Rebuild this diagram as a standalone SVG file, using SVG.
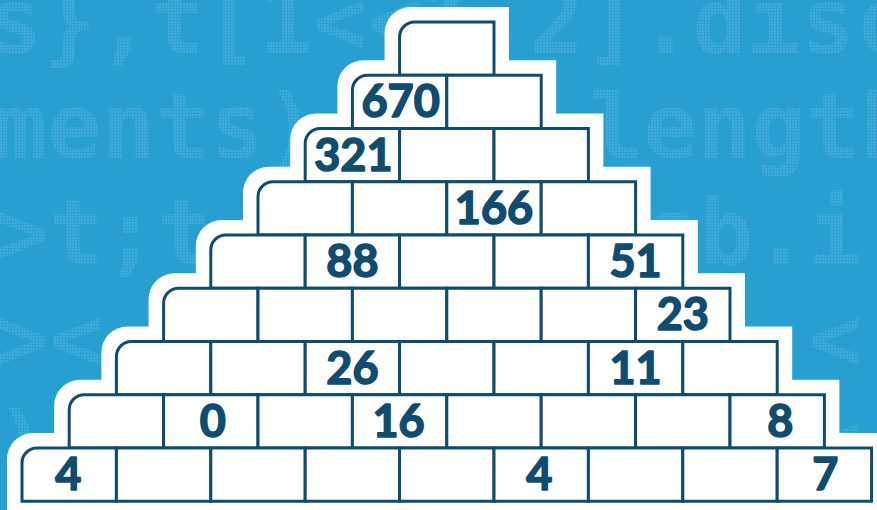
<svg xmlns="http://www.w3.org/2000/svg" width="877" height="510" viewBox="0 0 877 510">
<style>
.cell{fill:#ffffff;stroke:#0f4c6d;stroke-width:3;stroke-linejoin:miter}
.num{font-family:Lato,"Open Sans","Liberation Sans",sans-serif;font-weight:700;font-size:45px;fill:#0f4c6d;stroke:#0f4c6d;stroke-width:1.6;stroke-linejoin:round;text-anchor:middle}
.code{font-family:"DejaVu Sans Mono","Liberation Mono",monospace;font-size:90px;font-weight:700;fill:url(#dots)}
</style>
<defs>
<pattern id="dots" width="3" height="3" patternUnits="userSpaceOnUse">
<rect x="0" y="0" width="2.2" height="2.2" fill="#41acda"/>
</pattern>
</defs>
<rect x="0" y="0" width="877" height="510" fill="#289fd1"/>
<g id="background-code">
<text class="code" x="-12" y="53">s},t[1&lt;&lt;1,2].disc</text>
<text class="code" x="-7" y="158">ments)</text>
<text class="code" x="589" y="158">length</text>
<text class="code" x="-5" y="264">&gt;t;t</text>
<text class="code" x="645" y="264">sb.i</text>
<text class="code" x="-5" y="370">&gt;&lt;</text>
<text class="code" x="808" y="370">&lt;</text>
<text class="code" x="-5" y="476">)</text>
<text class="code" x="808" y="476">&lt;</text>
</g>
<path id="pyramid-outline" fill="#ffffff" d="M7 515 V459 A26 26 0 0 1 33 433 H54.2 V405.75 A26 26 0 0 1 80.2 379.75 H101.4 V352.5 A26 26 0 0 1 127.4 326.5 H148.6 V299.25 A26 26 0 0 1 174.6 273.25 H195.8 V246 A26 26 0 0 1 221.8 220 H243 V192.75 A26 26 0 0 1 269 166.75 H290.2 V139.5 A26 26 0 0 1 316.2 113.5 H337.4 V86.25 A26 26 0 0 1 363.4 60.25 H384.6 V33 A26 26 0 0 1 410.6 7 H509 V60.25 H556.2 V113.5 H603.4 V166.75 H650.6 V220 H697.8 V273.25 H745 V326.5 H792.2 V379.75 H839.4 V433 H890 V515 Z"/>
<g id="connectors"></g>
<g id="cells">
<g id="cell-0-0"><path class="cell" d="M399.6 75.25 V37 A15 15 0 0 1 414.6 22 H494 V75.25 Z"/></g>
<g id="cell-1-0"><path class="cell" d="M352.4 128.5 V90.25 A15 15 0 0 1 367.4 75.25 H446.8 V128.5 Z"/><text class="num" x="400.6" y="117.4">670</text></g>
<g id="cell-1-1"><rect class="cell" x="446.8" y="75.25" width="94.4" height="53.25"/></g>
<g id="cell-2-0"><path class="cell" d="M305.2 181.75 V143.5 A15 15 0 0 1 320.2 128.5 H399.6 V181.75 Z"/><text class="num" x="353.4" y="170.6">321</text></g>
<g id="cell-2-1"><rect class="cell" x="399.6" y="128.5" width="94.4" height="53.25"/></g>
<g id="cell-2-2"><rect class="cell" x="494" y="128.5" width="94.4" height="53.25"/></g>
<g id="cell-3-0"><path class="cell" d="M258 235 V196.75 A15 15 0 0 1 273 181.75 H352.4 V235 Z"/></g>
<g id="cell-3-1"><rect class="cell" x="352.4" y="181.75" width="94.4" height="53.25"/></g>
<g id="cell-3-2"><rect class="cell" x="446.8" y="181.75" width="94.4" height="53.25"/><text class="num" x="494" y="223.9">166</text></g>
<g id="cell-3-3"><rect class="cell" x="541.2" y="181.75" width="94.4" height="53.25"/></g>
<g id="cell-4-0"><path class="cell" d="M210.8 288.25 V250 A15 15 0 0 1 225.8 235 H305.2 V288.25 Z"/></g>
<g id="cell-4-1"><rect class="cell" x="305.2" y="235" width="94.4" height="53.25"/><text class="num" x="352.4" y="277.1">88</text></g>
<g id="cell-4-2"><rect class="cell" x="399.6" y="235" width="94.4" height="53.25"/></g>
<g id="cell-4-3"><rect class="cell" x="494" y="235" width="94.4" height="53.25"/></g>
<g id="cell-4-4"><rect class="cell" x="588.4" y="235" width="94.4" height="53.25"/><text class="num" x="635.6" y="277.1">51</text></g>
<g id="cell-5-0"><path class="cell" d="M163.6 341.5 V303.25 A15 15 0 0 1 178.6 288.25 H258 V341.5 Z"/></g>
<g id="cell-5-1"><rect class="cell" x="258" y="288.25" width="94.4" height="53.25"/></g>
<g id="cell-5-2"><rect class="cell" x="352.4" y="288.25" width="94.4" height="53.25"/></g>
<g id="cell-5-3"><rect class="cell" x="446.8" y="288.25" width="94.4" height="53.25"/></g>
<g id="cell-5-4"><rect class="cell" x="541.2" y="288.25" width="94.4" height="53.25"/></g>
<g id="cell-5-5"><rect class="cell" x="635.6" y="288.25" width="94.4" height="53.25"/><text class="num" x="682.8" y="330.4">23</text></g>
<g id="cell-6-0"><path class="cell" d="M116.4 394.75 V356.5 A15 15 0 0 1 131.4 341.5 H210.8 V394.75 Z"/></g>
<g id="cell-6-1"><rect class="cell" x="210.8" y="341.5" width="94.4" height="53.25"/></g>
<g id="cell-6-2"><rect class="cell" x="305.2" y="341.5" width="94.4" height="53.25"/><text class="num" x="352.4" y="383.6">26</text></g>
<g id="cell-6-3"><rect class="cell" x="399.6" y="341.5" width="94.4" height="53.25"/></g>
<g id="cell-6-4"><rect class="cell" x="494" y="341.5" width="94.4" height="53.25"/></g>
<g id="cell-6-5"><rect class="cell" x="588.4" y="341.5" width="94.4" height="53.25"/><text class="num" x="635.6" y="383.6">11</text></g>
<g id="cell-6-6"><rect class="cell" x="682.8" y="341.5" width="94.4" height="53.25"/></g>
<g id="cell-7-0"><path class="cell" d="M69.2 448 V409.75 A15 15 0 0 1 84.2 394.75 H163.6 V448 Z"/></g>
<g id="cell-7-1"><rect class="cell" x="163.6" y="394.75" width="94.4" height="53.25"/><text class="num" x="212.8" y="436.9">0</text></g>
<g id="cell-7-2"><rect class="cell" x="258" y="394.75" width="94.4" height="53.25"/></g>
<g id="cell-7-3"><rect class="cell" x="352.4" y="394.75" width="94.4" height="53.25"/><text class="num" x="398.6" y="436.9">16</text></g>
<g id="cell-7-4"><rect class="cell" x="446.8" y="394.75" width="94.4" height="53.25"/></g>
<g id="cell-7-5"><rect class="cell" x="541.2" y="394.75" width="94.4" height="53.25"/></g>
<g id="cell-7-6"><rect class="cell" x="635.6" y="394.75" width="94.4" height="53.25"/></g>
<g id="cell-7-7"><rect class="cell" x="730" y="394.75" width="94.4" height="53.25"/><text class="num" x="780.2" y="436.9">8</text></g>
<g id="cell-8-0"><path class="cell" d="M22 501.25 V463 A15 15 0 0 1 37 448 H116.4 V501.25 Z"/><text class="num" x="68.2" y="490.1">4</text></g>
<g id="cell-8-1"><rect class="cell" x="116.4" y="448" width="94.4" height="53.25"/></g>
<g id="cell-8-2"><rect class="cell" x="210.8" y="448" width="94.4" height="53.25"/></g>
<g id="cell-8-3"><rect class="cell" x="305.2" y="448" width="94.4" height="53.25"/></g>
<g id="cell-8-4"><rect class="cell" x="399.6" y="448" width="94.4" height="53.25"/></g>
<g id="cell-8-5"><rect class="cell" x="494" y="448" width="94.4" height="53.25"/><text class="num" x="539.2" y="490.1">4</text></g>
<g id="cell-8-6"><rect class="cell" x="588.4" y="448" width="94.4" height="53.25"/></g>
<g id="cell-8-7"><rect class="cell" x="682.8" y="448" width="94.4" height="53.25"/></g>
<g id="cell-8-8"><rect class="cell" x="777.2" y="448" width="94.4" height="53.25"/><text class="num" x="825.4" y="490.1">7</text></g>
</g>
</svg>
